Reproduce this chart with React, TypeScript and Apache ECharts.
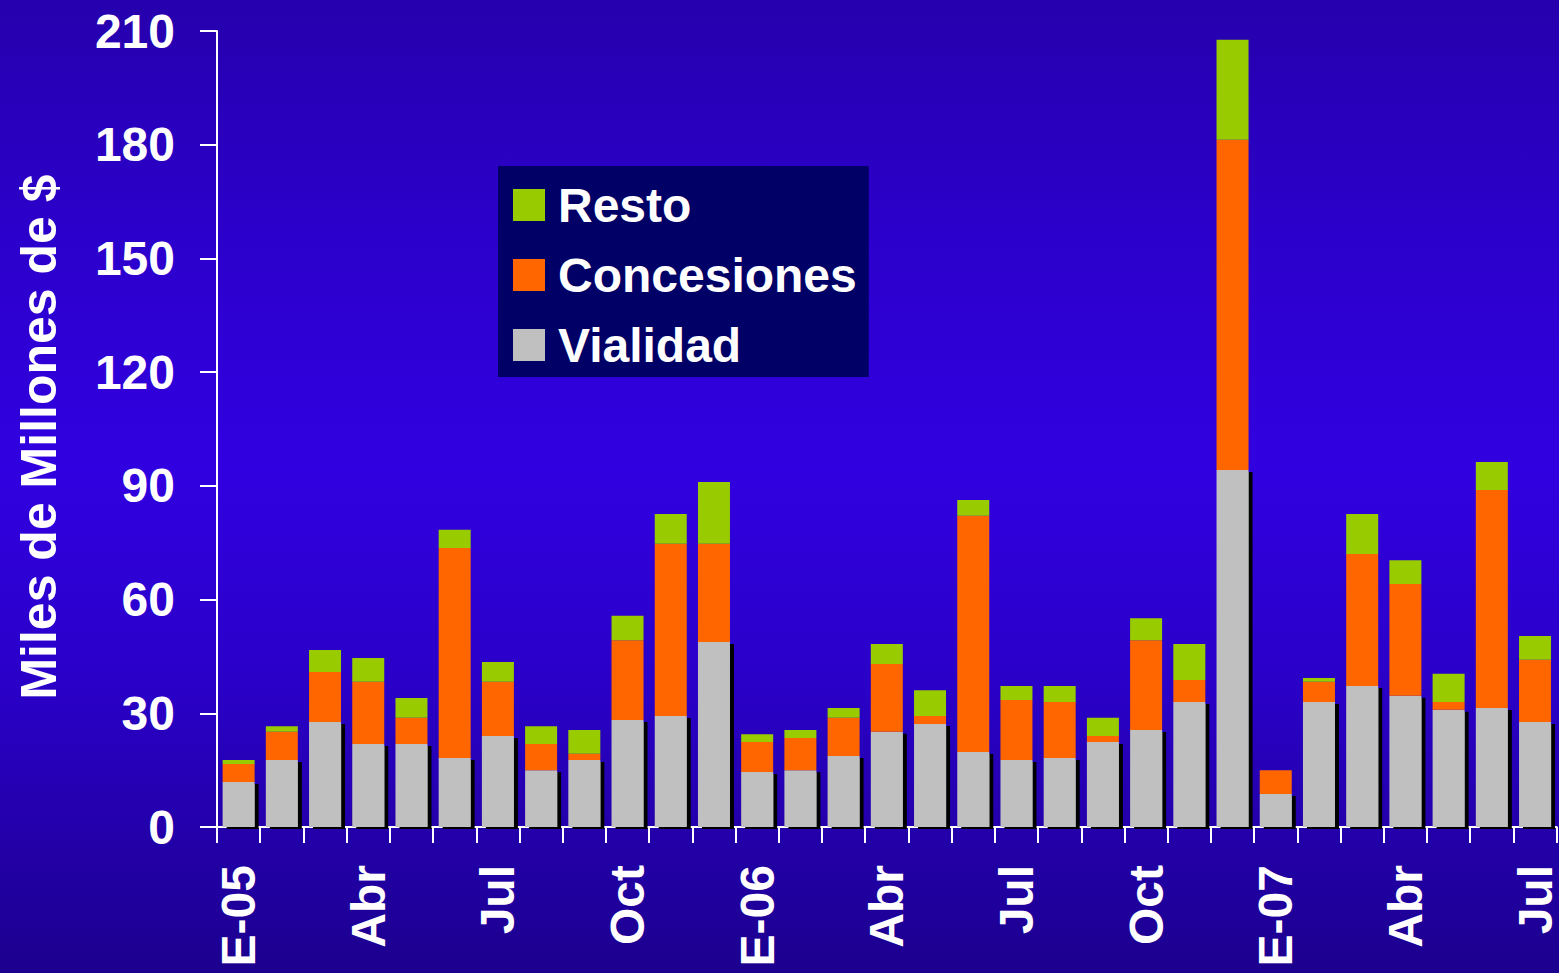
import React, { useEffect, useRef } from "react";
import * as echarts from "echarts";

const categories = [
  "E-05", "Feb", "Mar", "Abr", "May", "Jun", "Jul", "Ago", "Sep", "Oct", "Nov", "Dic",
  "E-06", "Feb", "Mar", "Abr", "May", "Jun", "Jul", "Ago", "Sep", "Oct", "Nov", "Dic",
  "E-07", "Feb", "Mar", "Abr", "May", "Jun", "Jul",
];

const vialidad = [
  11.9, 17.7, 27.7, 21.9, 21.9, 18.2, 24.0, 15.0, 17.7, 28.2, 29.3, 48.8,
  14.5, 15.0, 18.7, 25.1, 27.2, 19.8, 17.7, 18.2, 22.4, 25.6, 33.0, 94.2,
  8.7, 33.0, 37.2, 34.6, 30.9, 31.4, 27.7,
];

const concesiones = [
  4.7, 7.4, 13.2, 16.4, 6.9, 55.4, 14.3, 6.9, 1.6, 21.1, 45.4, 25.9,
  7.9, 8.5, 10.1, 17.9, 2.1, 62.3, 15.8, 14.8, 1.6, 23.7, 5.8, 87.1,
  6.3, 5.3, 34.8, 29.5, 2.1, 57.5, 16.4,
];

const resto = [
  1.1, 1.5, 5.8, 6.3, 5.2, 4.8, 5.2, 4.7, 6.3, 6.4, 7.9, 16.3,
  2.1, 2.1, 2.6, 5.3, 6.8, 4.2, 3.7, 4.2, 4.8, 5.8, 9.5, 26.4,
  0, 1.0, 10.6, 6.3, 7.4, 7.4, 6.3,
];

const FONT = "'Liberation Sans', Arial, sans-serif";

export default function App() {
  const ref = useRef<HTMLDivElement>(null);
  useEffect(() => {
    if (!ref.current) return;
    const chart = echarts.init(ref.current, null, { renderer: "svg" });
    chart.setOption({
      animation: false,
      grid: { left: 217, right: 0, top: 31, bottom: 146 },
      legend: {
        orient: "vertical",
        left: 498,
        top: 166,
        backgroundColor: "#000066",
        padding: [15, 12, 8, 15],
        itemWidth: 32,
        itemHeight: 32,
        itemGap: 22,
        icon: "rect",
        data: ["Resto", "Concesiones", "Vialidad"],
        textStyle: {
          color: "#ffffff",
          fontSize: 48,
          fontWeight: "bold",
          fontFamily: FONT,
          lineHeight: 48,
          padding: [0, 0, 0, 8],
        },
      },
      xAxis: {
        type: "category",
        data: categories,
        boundaryGap: true,
        axisLine: { lineStyle: { color: "#ffffff", width: 2 } },
        axisTick: {
          show: true,
          length: 16,
          interval: 0,
          alignWithLabel: false,
          lineStyle: { color: "#ffffff", width: 2 },
        },
        axisLabel: {
          interval: 2,
          rotate: 90,
          margin: 38,
          color: "#ffffff",
          fontSize: 48,
          fontWeight: "bold",
          fontFamily: FONT,
        },
      },
      yAxis: {
        type: "value",
        min: 0,
        max: 210,
        interval: 30,
        name: "Miles de Millones de $",
        nameLocation: "middle",
        nameGap: 153,
        nameTextStyle: {
          color: "#ffffff",
          fontSize: 50,
          fontWeight: "bold",
          fontFamily: FONT,
          padding: [0, 16, 0, 0],
        },
        splitLine: { show: false },
        axisLine: { show: true, lineStyle: { color: "#ffffff", width: 2 } },
        axisTick: { show: true, length: 17, lineStyle: { color: "#ffffff", width: 2 } },
        axisLabel: {
          margin: 42,
          color: "#ffffff",
          fontSize: 48,
          fontWeight: "bold",
          fontFamily: FONT,
        },
      },
      series: [
        {
          name: "Vialidad",
          type: "bar",
          stack: "total",
          barWidth: 32,
          data: vialidad,
          itemStyle: {
            color: "#C0C0C0",
            shadowColor: "#000000",
            shadowOffsetX: 4,
            shadowOffsetY: 2,
            shadowBlur: 0,
          },
        },
        {
          name: "Concesiones",
          type: "bar",
          stack: "total",
          barWidth: 32,
          data: concesiones,
          itemStyle: { color: "#FF6600" },
        },
        {
          name: "Resto",
          type: "bar",
          stack: "total",
          barWidth: 32,
          data: resto,
          itemStyle: { color: "#99CC00" },
        },
      ],
    });
    return () => chart.dispose();
  }, []);
  return (
    <div
      ref={ref}
      style={{
        position: "fixed",
        left: 0,
        top: 0,
        width: 1559,
        height: 973,
        background:
          "linear-gradient(to bottom, #2600ad 0%, #2c00cc 25%, #3100e0 48%, #2a00c8 70%, #1c008e 100%)",
      }}
    />
  );
}
